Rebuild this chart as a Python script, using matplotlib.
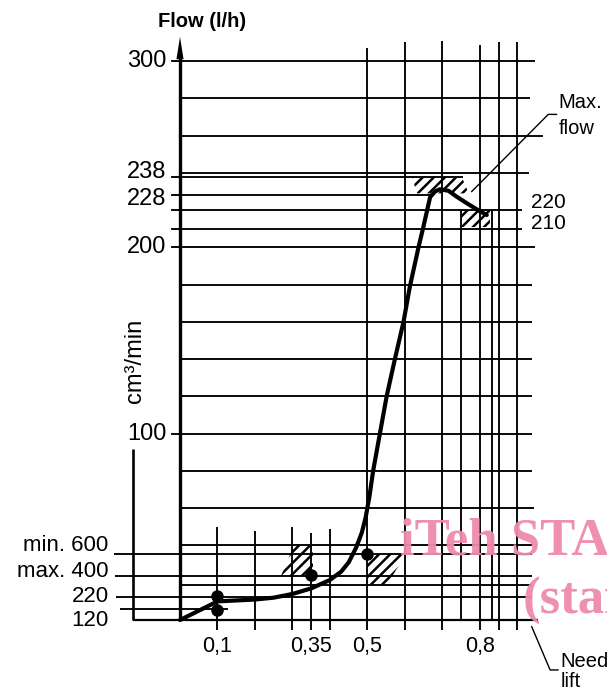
import matplotlib
matplotlib.use("Agg")
import matplotlib.pyplot as plt

plt.rcParams['font.family'] = ['Liberation Sans', 'DejaVu Sans']
plt.rcParams['hatch.linewidth'] = 1.8

# ---------------- data ----------------
# main curve: needle lift (mm) vs flow (l/h)
curve_x = [0.0, 0.1, 0.15, 0.2, 0.25, 0.3, 0.35, 0.4, 0.43, 0.45, 0.47, 0.485,
           0.495, 0.505, 0.515, 0.533, 0.551, 0.573, 0.596, 0.613, 0.636, 0.649,
           0.667, 0.68, 0.693, 0.716, 0.738, 0.765, 0.795, 0.818]
curve_y = [0.0, 10.0, 10.5, 11.0, 12.0, 14.0, 17.0, 21.5, 26.0, 31.0, 39.0, 47.0,
           55.0, 66.0, 80.0, 100.0, 120.0, 140.0, 160.0, 179.0, 200.0, 211.0,
           227.0, 230.0, 231.2, 230.4, 227.2, 223.7, 220.0, 217.4]

# measuring points
point_x = [0.1, 0.1, 0.35, 0.5]
point_y = [12.8, 5.6, 24.0, 35.5]

# tolerance (hatched) zones, polygons in data units
zone1_x = [0.305, 0.355, 0.355, 0.27]
zone1_y = [40, 40, 23.5, 23.5]
zone2_x = [0.5, 0.603, 0.552, 0.5]
zone2_y = [35.5, 35.5, 19, 19]
zone3_x = [0.618, 0.751, 0.77, 0.632]
zone3_y = [238, 238, 229, 229]
zone4_x = [0.751, 0.827, 0.827, 0.751]
zone4_y = [220, 220, 211, 211]

# y axis (l/h)
y_tick_values = [300, 238, 228, 220, 210, 200, 100]
y_tick_labels = ['300', '238', '228', '', '', '200', '100']
y_label_offsets = [0, 3, -3, 0, 0, 0, 0]
right_labels = ['220', '210']
right_label_values = [220, 210]
right_label_offsets = [5.5, 3.5]

# lower cm3/min scale (positions in l/h as read)
low_labels = ['min. 600', 'max. 400', '220', '120']
low_levels = [35.5, 23.5, 12.4, 5.8]
low_starts = [-0.176, -0.173, -0.17, -0.16]
low_ends = [0.94, 0.94, 0.94, 0.127]

# x axis (needle lift)
x_tick_values = [0.1, 0.35, 0.5, 0.8]
x_tick_labels = ['0,1', '0,35', '0,5', '0,8']

# grid
h_levels = [300, 280, 260, 240, 238, 228, 220, 210, 200, 180, 160, 140, 120,
            100, 80, 60, 40, 19]
h_ends = [0.947, 0.933, 0.968, 0.93, 0.755, 0.667, 0.912, 0.912, 0.947, 0.94,
          0.94, 0.94, 0.94, 0.94, 0.94, 0.945, 0.94, 0.94]
v_lower = [0.1, 0.2, 0.3, 0.35, 0.4]
v_lower_tops = [50, 48, 50, 46.5, 49]
v_full = [0.5, 0.6, 0.7, 0.8, 0.85, 0.9]
v_full_tops = [307, 310, 311, 308.5, 310, 310]
v_box = [0.75, 0.833]
v_box_tops = [220, 220]

# ---------------- figure ----------------
fig = plt.figure(figsize=(6.07, 6.91), dpi=100)
ax = fig.add_axes([0, 0, 1, 1])
ax.set_xlim(-0.48, 1.1387)
ax.set_ylim(-38.1, 332.8)
ax.axis('off')

glw = 1.35
# horizontal grid lines
for lev, end in zip(h_levels, h_ends):
    ax.plot([0, end], [lev, lev], color='k', lw=glw, solid_capstyle='butt')
# lower scale lines
for lev, s, e in zip(low_levels, low_starts, low_ends):
    ax.plot([s, e], [lev, lev], color='k', lw=glw, solid_capstyle='butt')
# vertical grid lines
for xv, top in zip(v_lower, v_lower_tops):
    ax.plot([xv, xv], [-5.4, top], color='k', lw=glw, solid_capstyle='butt')
for xv, top in zip(v_full, v_full_tops):
    ax.plot([xv, xv], [-5.4, top], color='k', lw=glw, solid_capstyle='butt')
for xv, top in zip(v_box, v_box_tops):
    ax.plot([xv, xv], [0, top], color='k', lw=glw, solid_capstyle='butt')

# bottom line and secondary axis
ax.plot([-0.125, 0.955], [0, 0], color='k', lw=1.6, solid_capstyle='butt')
ax.plot([-0.125, -0.125], [0, 92], color='k', lw=1.9, solid_capstyle='butt')

# main axis with arrow
ax.plot([0, 0], [0, 303], color='k', lw=2.4, solid_capstyle='butt')
ax.fill([0, -0.0095, 0.0095], [313, 301, 301], color='k', lw=0)

# left ticks and labels
for v, lab, off in zip(y_tick_values, y_tick_labels, y_label_offsets):
    ax.plot([-0.022, 0], [v, v], color='k', lw=glw)
    if lab:
        ax.annotate(lab, (-0.036, v), xytext=(0, off),
                    textcoords='offset points', ha='right', va='center',
                    fontsize=17)

# right labels
for v, lab, off in zip(right_label_values, right_labels, right_label_offsets):
    ax.annotate(lab, (0.935, v), xytext=(0, off), textcoords='offset points',
                ha='left', va='center', fontsize=15)

# lower scale labels
low_offsets = [6, 3.5, 0, -8]
for lev, lab, off in zip(low_levels, low_labels, low_offsets):
    ax.annotate(lab, (-0.19, lev), xytext=(0, off), textcoords='offset points',
                ha='right', va='center', fontsize=16)

# x tick labels
for v, lab in zip(x_tick_values, x_tick_labels):
    ax.text(v, -14, lab, ha='center', va='center', fontsize=15.5)

# axis titles
ax.text(0.059, 321.5, 'Flow (l/h)', ha='center', va='center', fontsize=14.5,
        fontweight='bold')
ax.text(-0.12, 139, 'cm³/min', ha='center', va='center', rotation=90,
        fontsize=17)

# hatched zones
for zx, zy in [(zone1_x, zone1_y), (zone2_x, zone2_y), (zone3_x, zone3_y),
               (zone4_x, zone4_y)]:
    ax.fill(zx, zy, facecolor='none', edgecolor='k', hatch='///', lw=0)

# curve
ax.plot(curve_x, curve_y, color='k', lw=3.0, solid_joinstyle='round',
        solid_capstyle='round')

# points
ax.plot(point_x, point_y, 'o', color='k', markersize=8)

# Max. flow annotation
ax.plot([0.778, 0.982, 1.004], [230, 271.4, 271.4], color='k', lw=1.0)
ax.text(1.01, 278, 'Max.', ha='left', va='center', fontsize=14.5)
ax.text(1.01, 264, 'flow', ha='left', va='center', fontsize=14.5)

# Needle lift annotation
ax.plot([0.938, 0.987, 1.008], [-3.6, -26.8, -26.8], color='k', lw=1.0)
ax.text(1.015, -22, 'Needle', ha='left', va='center', fontsize=14.5)
ax.text(1.015, -33, 'lift', ha='left', va='center', fontsize=14.5)

# watermark
ax.text(0.587, 34.9, 'iTeh STANDARD PREVIEW', ha='left', va='baseline',
        fontsize=38, fontweight='bold', family='Liberation Serif',
        color='#EE8AAA', alpha=0.95)
ax.text(0.915, 4.0, '(standards.iteh.ai)', ha='left', va='baseline',
        fontsize=38, fontweight='bold', family='Liberation Serif',
        color='#EE8AAA', alpha=0.95)

fig.savefig('out.png', dpi=100)
